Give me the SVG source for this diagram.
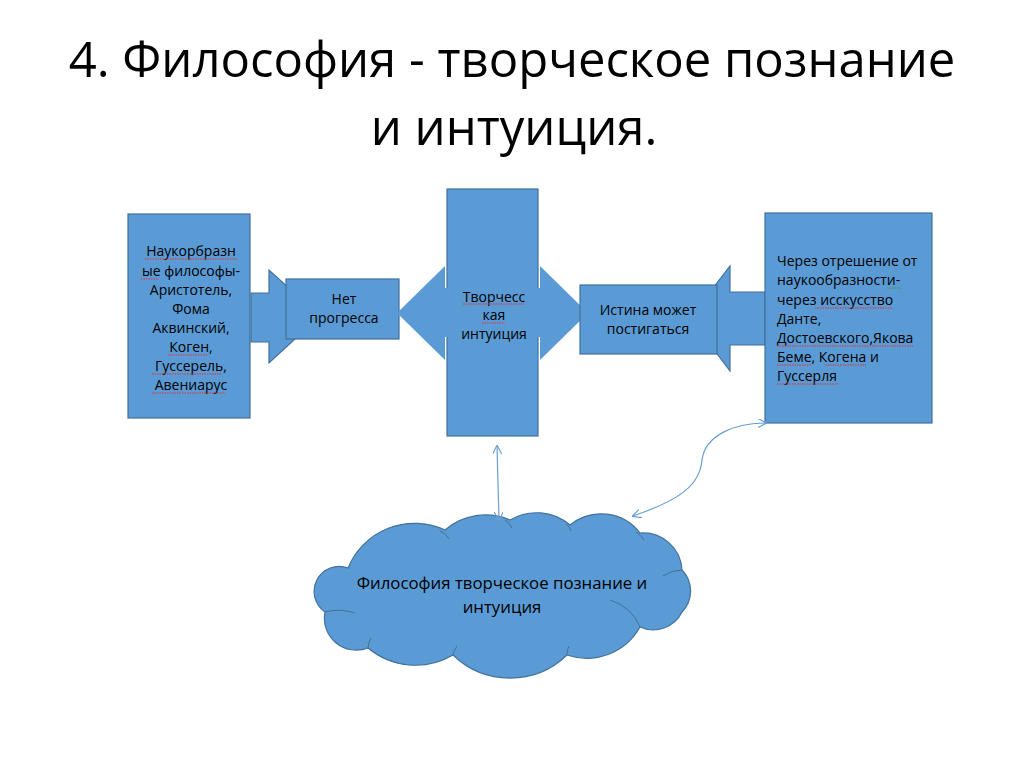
<svg xmlns="http://www.w3.org/2000/svg" width="1024" height="767" viewBox="0 0 1024 767">
<style>
.shape{fill:#5b9bd5;stroke:#41719c;stroke-width:1.2}
.nostroke{fill:#5b9bd5;stroke:none}
.inner{fill:none;stroke:#41719c;stroke-width:1}
.t{font-family:"Open Sans","Liberation Sans",sans-serif;font-size:14px;fill:#000}
.c{text-anchor:middle}
.title{font-family:"Open Sans","Liberation Sans",sans-serif;font-size:49px;fill:#000;text-anchor:middle}
.conn{fill:none;stroke:#6a9fd4;stroke-width:1.2}
.sq{stroke:#e0302c;stroke-width:1.2;stroke-dasharray:1.5 1}
.sqg{stroke:#3a9a3a;stroke-width:1.2;stroke-dasharray:1.5 1}
</style>
<defs>
<marker id="ah" viewBox="0 0 10 10" refX="9" refY="5" markerWidth="9" markerHeight="9" markerUnits="userSpaceOnUse" orient="auto-start-reverse">
<path d="M0,0 L10,5 L0,10" fill="none" stroke="#6a9fd4" stroke-width="1.3"/>
</marker>
</defs>
<rect width="1024" height="767" fill="#fff"/>
<g id="title">
<text class="title" x="512" y="77">4. Философия - творческое познание</text>
<text class="title" x="514" y="145">и интуиция.</text>
</g>
<g id="left-box">
<rect class="shape" x="128" y="214" width="122" height="204"/>
<text class="t c"><tspan x="191" y="256">Наукорбразн</tspan><tspan x="191" y="276">ые философы-</tspan><tspan x="191" y="295">Аристотель,</tspan><tspan x="191" y="314">Фома</tspan><tspan x="191" y="333">Аквинский,</tspan><tspan x="191" y="352">Коген,</tspan><tspan x="191" y="371">Гуссерель,</tspan><tspan x="191" y="390">Авениарус</tspan></text>
<g>
<line class="sq" x1="145" y1="259" x2="238" y2="259"/>
<line class="sq" x1="141" y1="279" x2="158" y2="279"/>
<line class="sq" x1="168" y1="355" x2="207" y2="355"/>
<line class="sq" x1="152" y1="374" x2="222" y2="374"/>
<line class="sq" x1="152" y1="393" x2="225" y2="393"/>
</g>
</g>
<g id="left-arrow">
<polygon class="shape" points="251,293 269,293 269,270 320,316 269,363 269,342 251,342"/>
</g>
<g id="right-arrow">
<polygon class="shape" points="765,292 730,292 730,266 690,318 730,371 730,345 765,345"/>
</g>
<g id="no-progress">
<rect class="shape" x="286" y="279" width="113" height="60"/>
<text class="t c"><tspan x="344" y="304">Нет</tspan><tspan x="344" y="323">прогресса</tspan></text>
</g>
<g id="intuition">
<rect class="shape" x="447" y="189" width="91" height="247"/>
<polygon class="nostroke" points="397,313 445,266 445,288 540,288 540,266 588,313 540,360 540,337 445,337 445,360"/>
<text class="t c"><tspan x="494" y="302">Творчесс</tspan><tspan x="494" y="320">кая</tspan><tspan x="494" y="339">интуиция</tspan></text>
<line class="sq" x1="463" y1="304" x2="525" y2="304"/>
<line class="sq" x1="482" y1="323" x2="505" y2="323"/>
</g>
<g id="truth">
<rect class="shape" x="580" y="285" width="137" height="69"/>
<text class="t c"><tspan x="648" y="315">Истина может</tspan><tspan x="648" y="334">постигаться</tspan></text>
</g>
<g id="right-box">
<rect class="shape" x="765" y="213" width="167" height="210"/>
<text class="t"><tspan x="777" y="266">Через отрешение от</tspan><tspan x="777" y="285">наукообразности-</tspan><tspan x="777" y="305">через исскусство</tspan><tspan x="777" y="324">Данте,</tspan><tspan x="777" y="343">Достоевского,Якова</tspan><tspan x="777" y="362">Беме, Когена и</tspan><tspan x="777" y="381">Гуссерля</tspan></text>
<line class="sqg" x1="887" y1="288" x2="902" y2="288"/>
<line class="sq" x1="815" y1="308" x2="892" y2="308"/>
<line class="sq" x1="777" y1="346" x2="913" y2="346"/>
<line class="sq" x1="777" y1="365" x2="812" y2="365"/>
<line class="sq" x1="825" y1="365" x2="866" y2="365"/>
<line class="sq" x1="777" y1="384" x2="838" y2="384"/>
</g>
<g id="cloud">
<path class="shape" d="M348,568 A72,72 0 0 1 445,530 A62,62 0 0 1 510,520 A52,52 0 0 1 570,525 A49,49 0 0 1 640,533 A39,39 0 0 1 682,570 A30,30 0 0 1 682,612 A32,32 0 0 1 640,627 A61,61 0 0 1 567,655 A82,82 0 0 1 453,655 A74,74 0 0 1 368,648 A32,32 0 0 1 325,612 A25,25 0 0 1 348,568 Z"/>
<path class="inner" d="M440,531 Q446,533 449,539"/>
<path class="inner" d="M505,520 Q510,523 512,528"/>
<path class="inner" d="M566,524 Q570,527 571,531"/>
<path class="inner" d="M636,532 Q641,535 644,540"/>
<path class="inner" d="M682,570 Q672,570 663,576"/>
<path class="inner" d="M610,600 Q632,607 640,627"/>
<path class="inner" d="M567,655 Q567,650 569,646"/>
<path class="inner" d="M453,655 Q454,650 457,646"/>
<path class="inner" d="M368,648 Q368,643 371,638"/>
<path class="inner" d="M325,612 Q340,608 355,613"/>
<text class="t c" style="font-size:16.8px"><tspan x="502" y="589">Философия творческое познание и</tspan><tspan x="502" y="613">интуиция</tspan></text>
</g>
<g id="connectors">
<path class="conn" d="M497,446 L499,520" marker-start="url(#ah)" marker-end="url(#ah)"/>
<path class="conn" d="M633,516 C680,500 700,485 702,460 C705,435 735,423 766,423" marker-start="url(#ah)" marker-end="url(#ah)"/>
</g>
</svg>
